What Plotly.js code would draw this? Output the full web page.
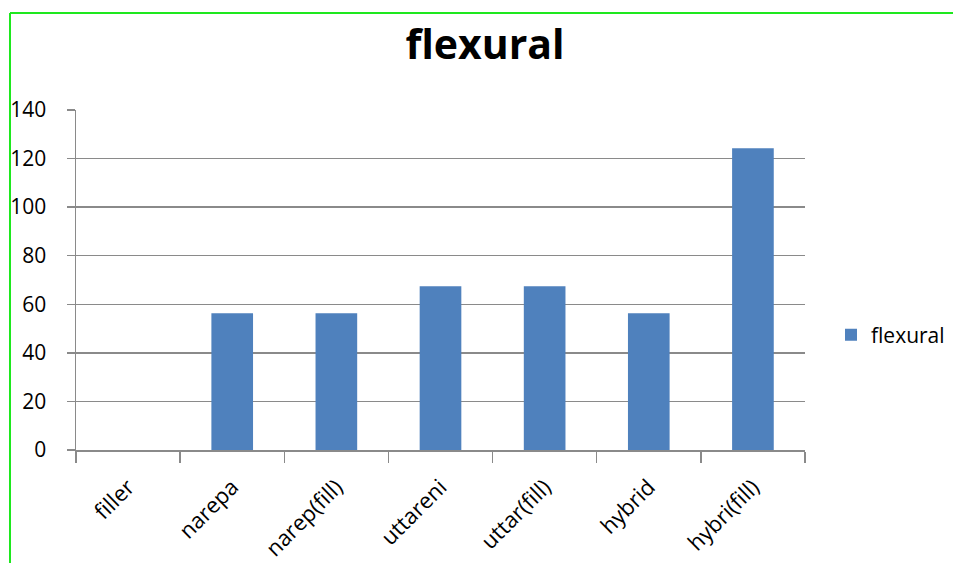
<!DOCTYPE html>
<html>
<head>
<meta charset="utf-8">
<script src="https://cdn.plot.ly/plotly-3.0.1.min.js"></script>
<style>
  html, body { margin: 0; padding: 0; background: #ffffff; }
  #chart { width: 953px; height: 563px; }
</style>
</head>
<body>
<div id="chart"></div>
<script>
// Flexural test results per specimen type
const categories = ['filler', 'narepa', 'narep(fill)', 'uttareni', 'uttar(fill)', 'hybrid', 'hybri(fill)'];
const flexural = [0, 56.3, 56.3, 67.4, 67.4, 56.3, 124.2];
const seriesName = 'flexural';
const yTicks = [0, 20, 40, 60, 80, 100, 120, 140];

const W = 953, H = 563;
const M = { l: 76, r: 148, t: 110, b: 113, autoexpand: false };
const plotW = W - M.l - M.r;
const plotH = H - M.t - M.b;

// convert page pixels to paper coordinates for the frame lines and legend
const px = x => (x - M.l) / plotW;
const py = y => (H - M.b - y) / plotH;

const gridColor = '#8a8a8a';
const frameColor = '#1ee81e';
const font = 'Open Sans, Liberation Sans, sans-serif';

const trace = {
  type: 'bar',
  x: categories,
  y: flexural,
  name: seriesName,
  marker: { color: '#4f81bd', line: { width: 0 } },
  showlegend: true,
  hoverinfo: 'x+y'
};

const layout = {
  width: W,
  height: H,
  margin: M,
  paper_bgcolor: '#ffffff',
  plot_bgcolor: '#ffffff',
  bargap: 0.6,
  title: {
    text: '<b>flexural</b>',
    font: { family: font, size: 41, color: '#000000' },
    x: 485 / W,
    xanchor: 'center',
    xref: 'container',
    y: 1 - 45 / H,
    yanchor: 'middle',
    yref: 'container'
  },
  xaxis: {
    type: 'category',
    showline: true,
    linecolor: gridColor,
    linewidth: 1.5,
    ticks: 'outside',
    tickson: 'boundaries',
    ticklen: 11,
    tickcolor: gridColor,
    tickwidth: 1.5,
    tickangle: -45,
    tickfont: { family: font, size: 22, color: '#000000' },
    ticklabelshift: 0,
    ticklabelstandoff: 14,
    showgrid: false,
    automargin: false,
    fixedrange: true
  },
  yaxis: {
    range: [0, 140],
    tickvals: yTicks,
    ticktext: yTicks.map(String),
    showline: true,
    linecolor: gridColor,
    linewidth: 1.5,
    ticks: 'outside',
    ticklen: 8,
    tickcolor: gridColor,
    tickwidth: 1.5,
    tickfont: { family: font, size: 21, color: '#000000' },
    ticklabelstandoff: 16,
    showgrid: true,
    gridcolor: gridColor,
    gridwidth: 1.5,
    zeroline: false,
    automargin: false,
    fixedrange: true
  },
  legend: {
    x: px(831),
    xanchor: 'left',
    y: py(335),
    yanchor: 'middle',
    font: { family: font, size: 21, color: '#000000' },
    bgcolor: 'rgba(0,0,0,0)',
    itemwidth: 30
  },
  shapes: [
    // green frame: left and top edges
    { type: 'line', xref: 'paper', yref: 'paper', x0: px(10), x1: px(10), y0: py(13), y1: py(H + 5),
      line: { color: frameColor, width: 2 } },
    { type: 'line', xref: 'paper', yref: 'paper', x0: px(10), x1: px(W + 5), y0: py(13), y1: py(13),
      line: { color: frameColor, width: 2 } }
  ]
};

Plotly.newPlot('chart', [trace], layout, { displayModeBar: false, staticPlot: true });
</script>
</body>
</html>
